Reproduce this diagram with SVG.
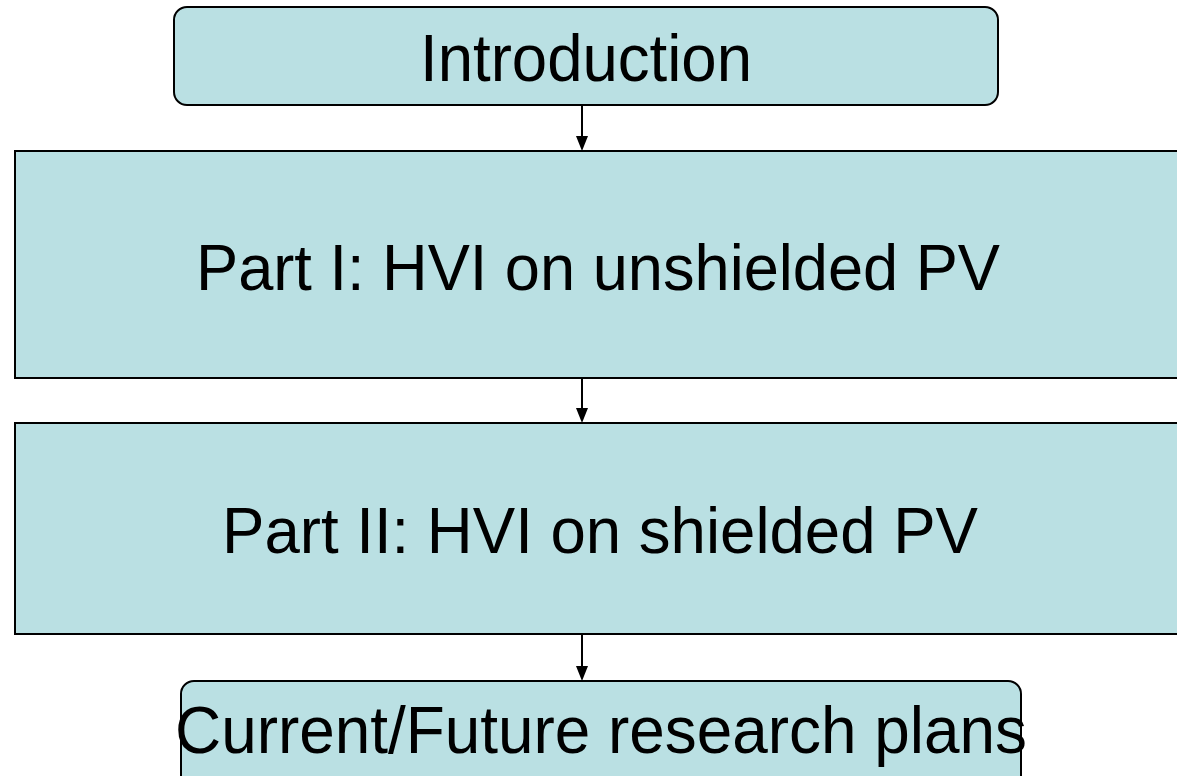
<svg xmlns="http://www.w3.org/2000/svg" width="1177" height="776" viewBox="0 0 1177 776">
<style>
.box{fill:#BAE0E3;stroke:#000;stroke-width:2}
.t{font-family:"Liberation Sans",Arial,sans-serif;font-size:64px;fill:#000;text-anchor:middle}
.big{font-size:66px}
.c{stroke:#000;stroke-width:2;fill:none}
.ah{fill:#000}
</style>
<rect width="1177" height="776" fill="#fff"/>
<g id="connectors">
<line class="c" x1="582" y1="105" x2="582" y2="137"/>
<path class="ah" d="M576,136 L588,136 L582,151 Z"/>
<line class="c" x1="582" y1="378" x2="582" y2="409"/>
<path class="ah" d="M576,408 L588,408 L582,423 Z"/>
<line class="c" x1="582" y1="634" x2="582" y2="667"/>
<path class="ah" d="M576,666 L588,666 L582,681 Z"/>
</g>
<g id="intro">
<rect class="box" x="174" y="7" width="824" height="98" rx="13"/>
<text class="t big" x="586" y="81" textLength="332" lengthAdjust="spacingAndGlyphs">Introduction</text>
</g>
<g id="part1">
<rect class="box" x="15" y="151" width="1180" height="227"/>
<text class="t" x="598" y="290" textLength="804" lengthAdjust="spacingAndGlyphs">Part I: HVI on unshielded PV</text>
</g>
<g id="part2">
<rect class="box" x="15" y="423" width="1180" height="211"/>
<text class="t" x="600" y="553" textLength="756" lengthAdjust="spacingAndGlyphs">Part II: HVI on shielded PV</text>
</g>
<g id="future">
<rect class="box" x="181" y="681" width="840" height="120" rx="13"/>
<text class="t big" x="601" y="753" textLength="852" lengthAdjust="spacingAndGlyphs">Current/Future research plans</text>
</g>
</svg>
